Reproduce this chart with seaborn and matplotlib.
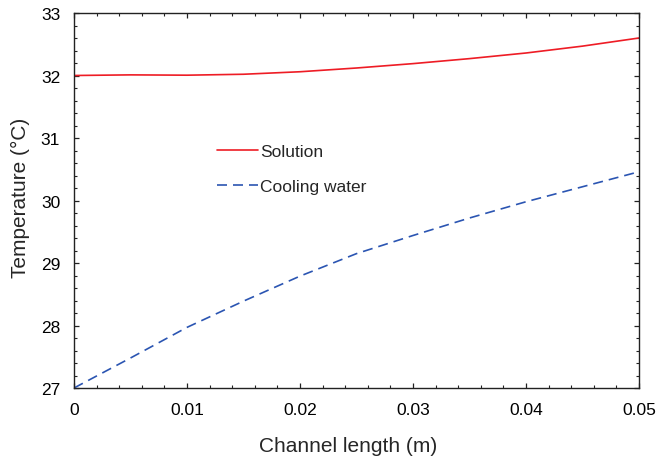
import numpy as np
import pandas as pd
import matplotlib
matplotlib.use("Agg")
import matplotlib.pyplot as plt
from matplotlib.ticker import MultipleLocator, FixedLocator, FixedFormatter
import seaborn as sns

# Data
channel_length = [0.0, 0.005, 0.01, 0.015, 0.02, 0.025, 0.03, 0.035, 0.04, 0.045, 0.05]
solution_temp = [32.00, 32.01, 32.005, 32.02, 32.06, 32.12, 32.19, 32.27, 32.36, 32.47, 32.60]
cooling_temp = [27.00, 27.48, 27.97, 28.39, 28.79, 29.15, 29.44, 29.72, 29.98, 30.22, 30.46]
series_names = ["Solution", "Cooling water"]
x_ticks = [0, 0.01, 0.02, 0.03, 0.04, 0.05]
x_tick_labels = ["0", "0.01", "0.02", "0.03", "0.04", "0.05"]
y_ticks = [27, 28, 29, 30, 31, 32, 33]

df = pd.DataFrame({
    "x": channel_length * 2,
    "T": solution_temp + cooling_temp,
    "series": [series_names[0]] * len(channel_length) + [series_names[1]] * len(channel_length),
})

sns.set_style("ticks")
plt.rcParams["font.family"] = ["Liberation Sans", "DejaVu Sans"]

fig = plt.figure(figsize=(6.57, 4.64), dpi=100)
ax = fig.add_axes([74 / 657, 1 - 389 / 464, 565 / 657, 375 / 464])

palette = {series_names[0]: "#ee1c25", series_names[1]: "#2b55b2"}
sns.lineplot(data=df, x="x", y="T", hue="series", style="series",
             palette=palette, dashes={series_names[0]: "", series_names[1]: (6, 3.6)},
             linewidth=1.2, ax=ax, legend=True)

ax.set_xlim(0, 0.05)
ax.set_ylim(27, 33)
ax.xaxis.set_major_locator(FixedLocator(x_ticks))
ax.xaxis.set_major_formatter(FixedFormatter(x_tick_labels))
ax.xaxis.set_minor_locator(MultipleLocator(0.002))
ax.yaxis.set_major_locator(FixedLocator(y_ticks))
ax.yaxis.set_minor_locator(MultipleLocator(0.2))

for s in ax.spines.values():
    s.set_visible(True)
    s.set_linewidth(1.0)
    s.set_color("#222222")

ax.tick_params(which="both", direction="in", top=True, right=True, colors="#222222",
               labelcolor="black", labelsize=12.5)
ax.tick_params(which="major", length=3.8, width=0.9)
ax.tick_params(axis="x", which="major", pad=10)
ax.tick_params(axis="y", which="major", pad=10)
ax.tick_params(which="minor", length=2.4, width=0.8)

ax.set_xlabel("Channel length (m)", fontsize=15, labelpad=14, x=0.485)
ax.set_ylabel("Temperature (°C)", fontsize=15, labelpad=8, y=0.51)

leg = ax.legend(loc="upper left", bbox_to_anchor=(0.253, 0.652), borderaxespad=0, borderpad=0,
                frameon=False, fontsize=12.5, handlelength=2.35, handletextpad=0.12,
                labelspacing=1.15)

fig.savefig("out.png", dpi=100)
